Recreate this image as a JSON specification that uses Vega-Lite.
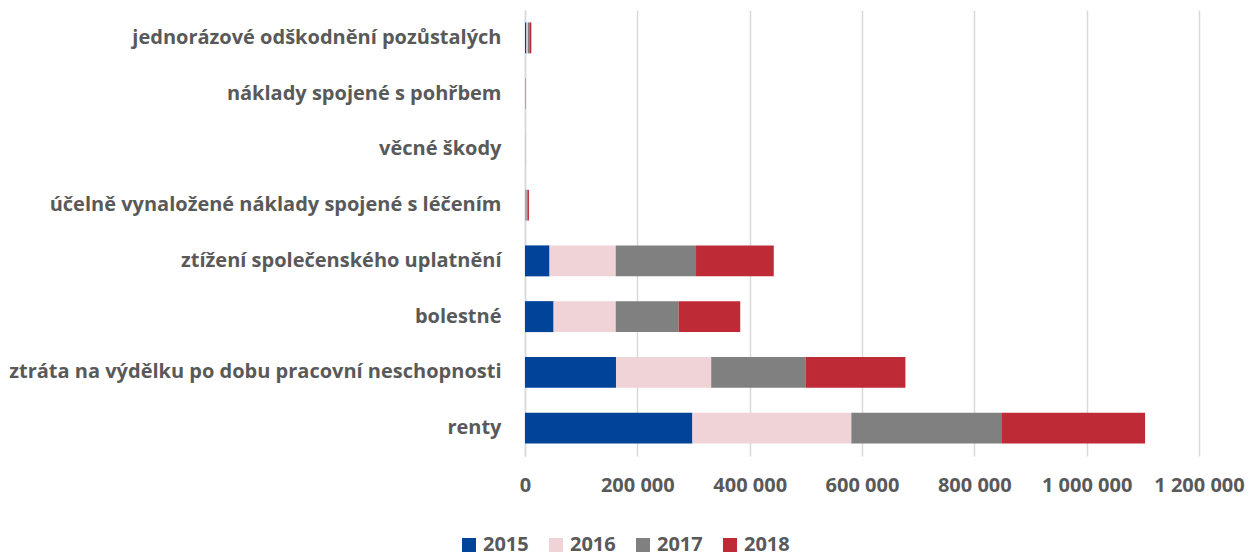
{
  "$schema": "https://vega.github.io/schema/vega-lite/v6.json",
  "width": 674,
  "height": 446,
  "autosize": "none",
  "padding": {"left": 525, "top": 10, "right": 50, "bottom": 102},
  "background": "white",
  "config": {
    "view": {"stroke": null},
    "locale": {"number": {"decimal": ",", "thousands": " ", "grouping": [3], "currency": ["", " Kč"]}},
    "font": "Open Sans"
  },
  "data": {
    "values": [
      {"kategorie": "jednorázové odškodnění pozůstalých", "rok": "2015", "hodnota": 2500},
      {"kategorie": "jednorázové odškodnění pozůstalých", "rok": "2016", "hodnota": 2500},
      {"kategorie": "jednorázové odškodnění pozůstalých", "rok": "2017", "hodnota": 2800},
      {"kategorie": "jednorázové odškodnění pozůstalých", "rok": "2018", "hodnota": 3500},
      {"kategorie": "náklady spojené s pohřbem", "rok": "2015", "hodnota": 300},
      {"kategorie": "náklady spojené s pohřbem", "rok": "2016", "hodnota": 400},
      {"kategorie": "náklady spojené s pohřbem", "rok": "2017", "hodnota": 300},
      {"kategorie": "náklady spojené s pohřbem", "rok": "2018", "hodnota": 300},
      {"kategorie": "věcné škody", "rok": "2015", "hodnota": 50},
      {"kategorie": "věcné škody", "rok": "2016", "hodnota": 50},
      {"kategorie": "věcné škody", "rok": "2017", "hodnota": 50},
      {"kategorie": "věcné škody", "rok": "2018", "hodnota": 50},
      {"kategorie": "účelně vynaložené náklady spojené s léčením", "rok": "2015", "hodnota": 1000},
      {"kategorie": "účelně vynaložené náklady spojené s léčením", "rok": "2016", "hodnota": 1500},
      {"kategorie": "účelně vynaložené náklady spojené s léčením", "rok": "2017", "hodnota": 2000},
      {"kategorie": "účelně vynaložené náklady spojené s léčením", "rok": "2018", "hodnota": 2500},
      {"kategorie": "ztížení společenského uplatnění", "rok": "2015", "hodnota": 43700},
      {"kategorie": "ztížení společenského uplatnění", "rok": "2016", "hodnota": 117800},
      {"kategorie": "ztížení společenského uplatnění", "rok": "2017", "hodnota": 143000},
      {"kategorie": "ztížení společenského uplatnění", "rok": "2018", "hodnota": 138400},
      {"kategorie": "bolestné", "rok": "2015", "hodnota": 50900},
      {"kategorie": "bolestné", "rok": "2016", "hodnota": 110600},
      {"kategorie": "bolestné", "rok": "2017", "hodnota": 112000},
      {"kategorie": "bolestné", "rok": "2018", "hodnota": 109700},
      {"kategorie": "ztráta na výdělku po dobu pracovní neschopnosti", "rok": "2015", "hodnota": 162000},
      {"kategorie": "ztráta na výdělku po dobu pracovní neschopnosti", "rok": "2016", "hodnota": 169500},
      {"kategorie": "ztráta na výdělku po dobu pracovní neschopnosti", "rok": "2017", "hodnota": 167800},
      {"kategorie": "ztráta na výdělku po dobu pracovní neschopnosti", "rok": "2018", "hodnota": 178000},
      {"kategorie": "renty", "rok": "2015", "hodnota": 298000},
      {"kategorie": "renty", "rok": "2016", "hodnota": 283000},
      {"kategorie": "renty", "rok": "2017", "hodnota": 267000},
      {"kategorie": "renty", "rok": "2018", "hodnota": 256000}
    ]
  },
  "mark": {"type": "bar"},
  "encoding": {
    "y": {
      "field": "kategorie",
      "type": "nominal",
      "sort": null,
      "scale": {"paddingInner": 0.445, "paddingOuter": 0.2225},
      "axis": {
        "title": null,
        "labelFont": "Open Sans",
        "labelFontSize": 20,
        "labelFontWeight": "bold",
        "labelColor": "#595959",
        "labelPadding": 24,
        "ticks": false,
        "domain": true,
        "domainColor": "#d9d9d9",
        "domainWidth": 1.5,
        "grid": false,
        "labelLimit": 600
      }
    },
    "x": {
      "field": "hodnota",
      "type": "quantitative",
      "stack": "zero",
      "scale": {"domain": [0, 1200000], "nice": false},
      "axis": {
        "title": null,
        "values": [0, 200000, 400000, 600000, 800000, 1000000, 1200000],
        "format": ",d",
        "labelOverlap": false,
        "labelFlush": false,
        "labelFont": "Open Sans",
        "labelFontSize": 20,
        "labelFontWeight": "bold",
        "labelColor": "#595959",
        "labelPadding": 19,
        "ticks": false,
        "domain": false,
        "grid": true,
        "gridColor": "#d9d9d9",
        "gridWidth": 1.5
      }
    },
    "color": {
      "field": "rok",
      "type": "nominal",
      "scale": {"domain": ["2015", "2016", "2017", "2018"], "range": ["#00449A", "#F0D3D6", "#808080", "#BE2A35"]},
      "legend": {
        "title": null,
        "orient": "none",
        "direction": "horizontal",
        "legendX": -66,
        "legendY": 525,
        "symbolType": "square",
        "symbolSize": 196,
        "symbolStrokeWidth": 0,
        "labelFont": "Open Sans",
        "labelFontSize": 20,
        "labelFontWeight": "bold",
        "labelColor": "#595959",
        "labelOffset": 4,
        "columnPadding": 17
      }
    },
    "order": {"field": "rok", "type": "ordinal"}
  }
}
